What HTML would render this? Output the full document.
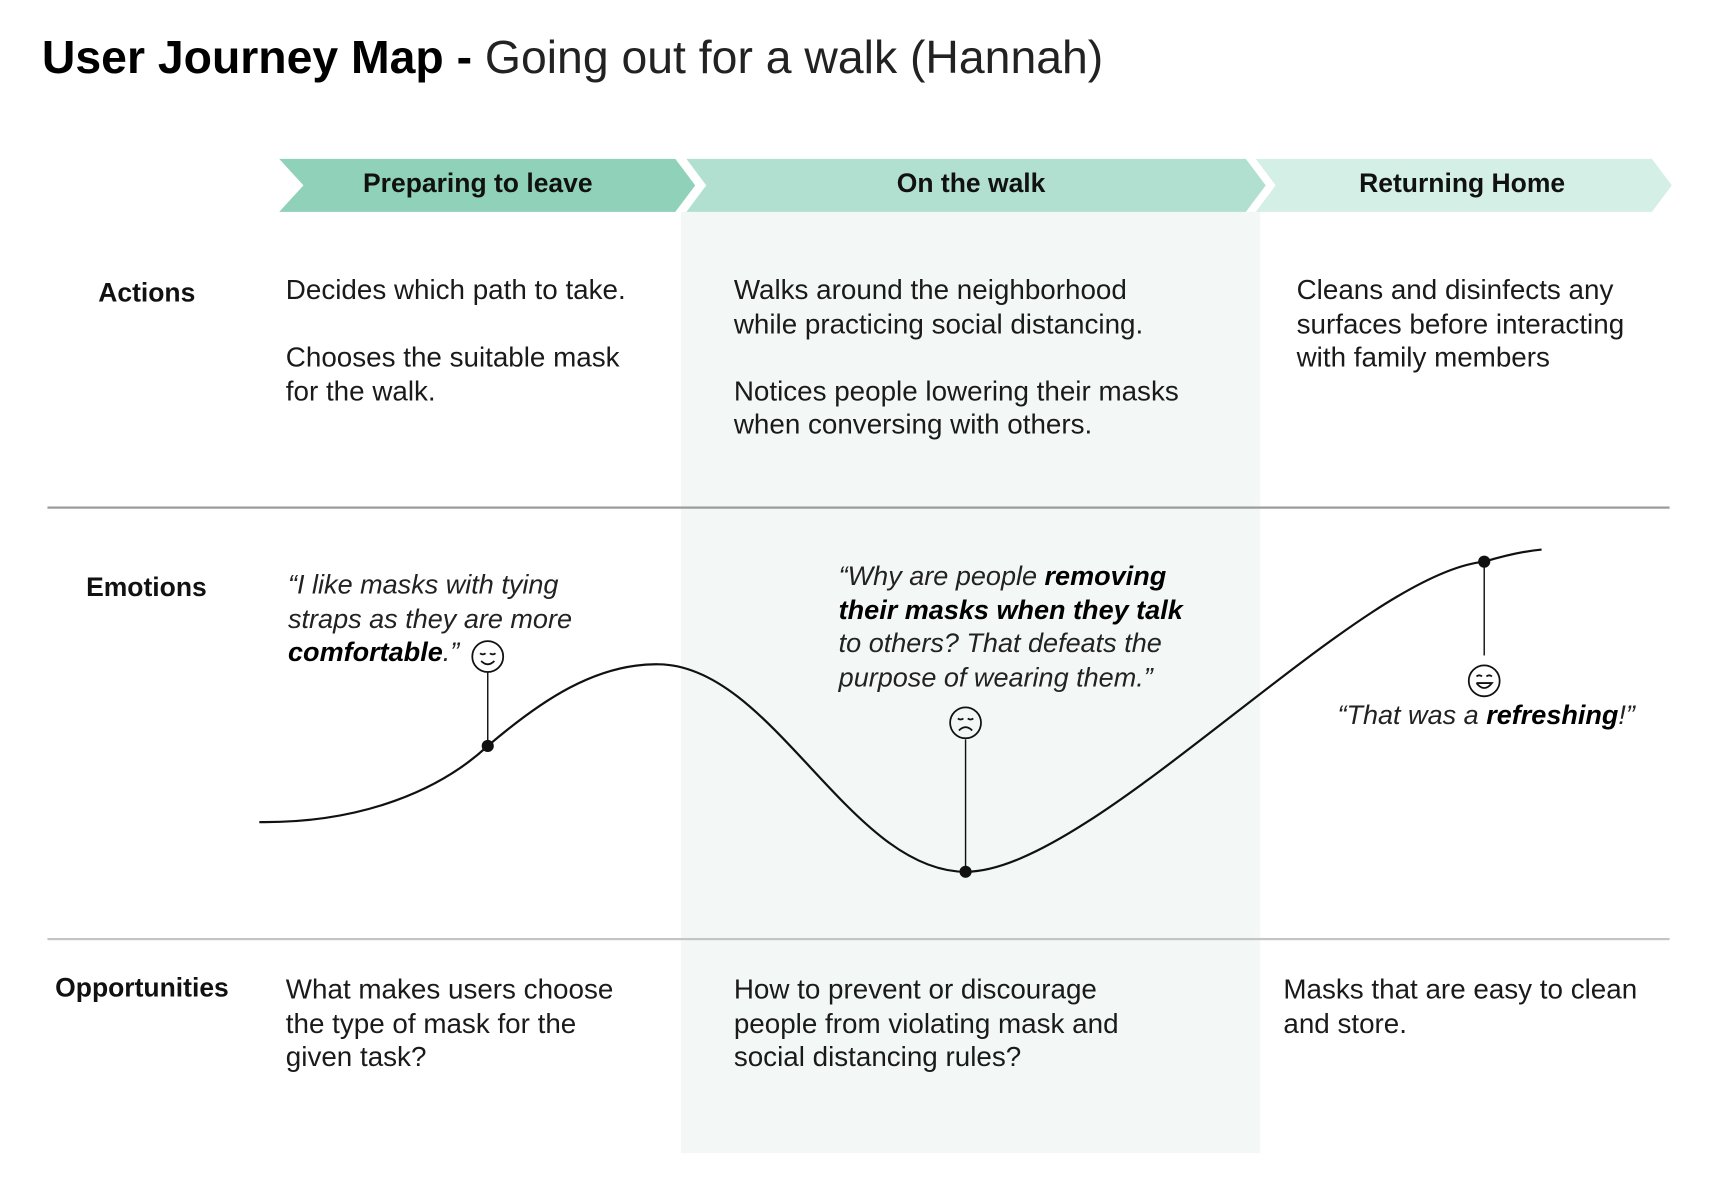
<!DOCTYPE html>
<html><head><meta charset="utf-8"><style>
html,body{margin:0;padding:0;background:#fff;width:1730px;height:1204px;overflow:hidden}
#s{position:absolute;left:0;top:0;width:1568px;height:1091px;transform:scale(1.1035,1.1035);transform-origin:0 0;font-family:"Liberation Sans",sans-serif;color:#111}
.t{position:absolute;font-size:25.2px;line-height:30.5px;white-space:nowrap;color:#1a1a1a}
.lab{position:absolute;font-size:24px;font-weight:bold;white-space:nowrap}
.q{position:absolute;font-size:24.5px;line-height:30.5px;font-style:italic;white-space:nowrap;color:#222}
.q b{color:#000}
.h{position:absolute;top:144px;height:48px;line-height:46px;font-size:24px;font-weight:bold;text-align:center}
</style></head><body><div id="s">
<div style="position:absolute;left:617px;top:192px;width:525px;height:853px;background:#f3f8f6"></div>
<div style="position:absolute;left:43px;top:459px;width:1470px;height:2px;background:#9a9a9a"></div>
<div style="position:absolute;left:43px;top:850px;width:1470px;height:2px;background:#c4c4c4"></div>
<div style="position:absolute;left:38px;top:28px;font-size:42px;white-space:nowrap;color:#000"><b>User Journey Map -</b> <span style="color:#222">Going out for a walk (Hannah)</span></div>
<svg style="position:absolute;left:0;top:0" width="1568" height="1091">
<polygon points="253,144 612,144 630,168 612,192 253,192 275,168" fill="#8fd1b9"/>
<polygon points="622,144 1129,144 1147,168 1129,192 622,192 640,168" fill="#b1dfd0"/>
<polygon points="1138,144 1497,144 1515,168 1497,192 1138,192 1156,168" fill="#d4efe5"/>
<path d="M235,745 C330,746 400,715 442,676 C490,635 540,601 597,602 C700,603 770,790 875,790 C990,790 1230,520 1345,509 Q1375,500 1397,498" fill="none" stroke="#111" stroke-width="2"/>
<line x1="442" y1="609" x2="442" y2="676" stroke="#111" stroke-width="1.3"/>
<line x1="875" y1="670" x2="875" y2="790" stroke="#111" stroke-width="1.3"/>
<line x1="1345" y1="509" x2="1345" y2="594" stroke="#111" stroke-width="1.3"/>
<circle cx="442" cy="676" r="5.5" fill="#111"/><circle cx="875" cy="790" r="5.5" fill="#111"/><circle cx="1345" cy="509" r="5.5" fill="#111"/>
<g fill="none" stroke="#111" stroke-width="1.6">
<circle cx="442" cy="595" r="14"/><path d="M435,592 q2.5,2 5,0 M444,592 q2.5,2 5,0 M436,599 q6,6 12,0"/>
<circle cx="875" cy="655" r="14"/><path d="M868,651 q2.5,2 5,0 M877,651 q2.5,2 5,0 M869,662 q6,-6 12,0"/>
<circle cx="1345" cy="617" r="14"/><path d="M1338,613 q2.5,-2 5,0 M1347,613 q2.5,-2 5,0 M1338,619 h14 q-7,9 -14,0"/>
</g>
</svg>
<div class="h" style="left:253px;width:360px">Preparing to leave</div>
<div class="h" style="left:630px;width:500px">On the walk</div>
<div class="h" style="left:1145px;width:360px">Returning Home</div>
<div class="lab" style="left:89px;top:252px">Actions</div>
<div class="lab" style="left:78px;top:519px">Emotions</div>
<div class="lab" style="left:50px;top:882px">Opportunities</div>
<div class="t" style="left:259px;top:248px">Decides which path to take.<br><br>Chooses the suitable mask<br>for the walk.</div>
<div class="t" style="left:665px;top:248px">Walks around the neighborhood<br>while practicing social distancing.<br><br>Notices people lowering their masks<br>when conversing with others.</div>
<div class="t" style="left:1175px;top:248px">Cleans and disinfects any<br>surfaces before interacting<br>with family members</div>
<div class="q" style="left:261px;top:516px">“I like masks with tying<br>straps as they are more<br><b>comfortable</b>.”</div>
<div class="q" style="left:760px;top:508px">“Why are people <b>removing<br>their masks when they talk</b><br>to others? That defeats the<br>purpose of wearing them.”</div>
<div class="q" style="left:1212px;top:634px">“That was a <b>refreshing</b>!”</div>
<div class="t" style="left:259px;top:882px">What makes users choose<br>the type of mask for the<br>given task?</div>
<div class="t" style="left:665px;top:882px">How to prevent or discourage<br>people from violating mask and<br>social distancing rules?</div>
<div class="t" style="left:1163px;top:882px">Masks that are easy to clean<br>and store.</div>
</div></body></html>
